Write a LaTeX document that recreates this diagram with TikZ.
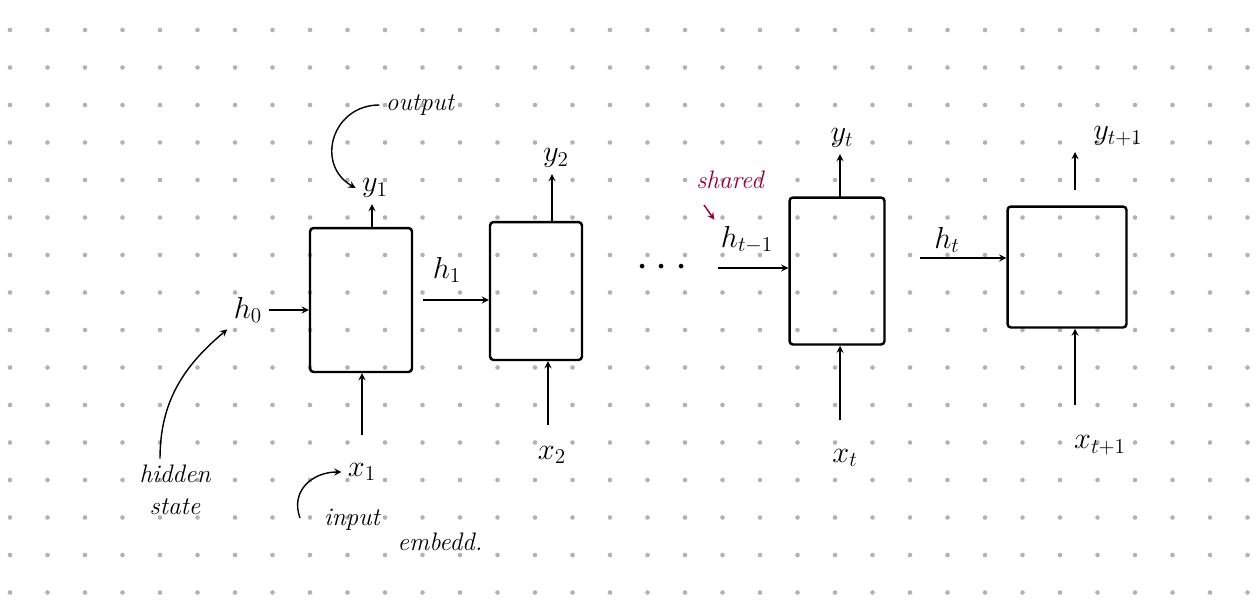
\documentclass[tikz,border=0pt]{standalone}
\usetikzlibrary{positioning}
\begin{document}
\begin{tikzpicture}[>=stealth, thick, x=0.02cm, y=-0.02cm,
  cell/.style={draw, line width=1.4pt, rounded corners=2pt, minimum width=#1},
  lbl/.style={font=\LARGE},
  note/.style={font=\Large\itshape}]
  % -------- background --------
  \useasboundingbox (0,0) rectangle (1257,606);
  \fill[white] (0,0) rectangle (1257,606);
  \foreach \i in {0,...,33} \foreach \j in {0,...,15}
    \fill[gray!60] ({10+37.5*\i},{30+37.5*\j}) circle (1.3pt);

  % -------- cells --------
  \node[cell=2.04cm, minimum height=2.88cm] (c1) at (361,300) {};
  \node[cell=1.84cm, minimum height=2.76cm] (c2) at (536,291) {};
  \node[cell=1.9cm, minimum height=2.94cm] (c3) at (837,271) {};
  \node[cell=2.38cm, minimum height=2.42cm] (c4) at (1067,267) {};

  % -------- hidden states --------
  \node[lbl] (h0) at (248,310) {$h_0$};
  \draw[->] (h0.east) -- (c1.west |- h0.east);
  \node[lbl] (h1) at (447,270) {$h_1$};
  \coordinate (h1s) at (423,300);
  \draw[->] (h1s) -- (c2.west |- h1s);
  \node[font=\Huge] (dots) at (662,268) {$\cdots$};
  \node[lbl] (ht1) at (747,240) {$h_{t-1}$};
  \coordinate (ht1s) at (718,268);
  \draw[->] (ht1s) -- (c3.west |- ht1s);
  \node[lbl] (ht) at (947,240) {$h_t$};
  \coordinate (hts) at (920,258);
  \draw[->] (hts) -- (c4.west |- hts);

  % -------- outputs --------
  \node[lbl] (y1) at (375,188) {$y_1$};
  \draw[->] (c1.north -| y1) ++(-3,0) coordinate (a1) -- (a1 |- y1.south);
  \node[lbl] (y2) at (556,158) {$y_2$};
  \draw[->] (552,222) coordinate (a2) -- (a2 |- y2.south);
  \node[lbl] (yt) at (842,138) {$y_t$};
  \draw[->] (840,198) coordinate (a3) -- (a3 |- yt.south);
  \node[lbl] (yt1) at (1118,136) {$y_{t+1}$};
  \draw[->] (1075,190) coordinate (a4) -- (1075,152);

  % -------- inputs --------
  \node[lbl] (x1) at (362,472) {$x_1$};
  \draw[->] (x1.north) ++(0,-22) coordinate (b1) -- (c1.south -| b1);
  \node[lbl] (x2) at (552,455) {$x_2$};
  \draw[->] (548,425) -- (c2.south -| 548,0);
  \node[lbl] (xt) at (845,458) {$x_t$};
  \draw[->] (840,420) -- (c3.south -| 840,0);
  \node[lbl] (xt1) at (1100,445) {$x_{t+1}$};
  \draw[->] (1075,405) -- (c4.south -| 1075,0);

  % -------- notes --------
  \node[note] (out) at (420,105) {output};
  \draw[->] (out.west) to[out=180, in=150, looseness=1.4] (y1.west);
  \node[note, align=center] (hid) at (175,490) {hidden\\state};
  \draw[->] (hid.north) ++(-15,0) to[out=90, in=220] (h0.south west);
  \node[note] (inp) at (352,520) {input};
  \node[note] (emb) at (440,542) {embedd.};
  \coordinate (ia) at (300,518);
  \draw[->] (ia) to[out=110, in=180, looseness=1.2] (x1.west);
  \node[note, purple!80!black] (sh) at (730,180) {shared};
  \coordinate (sa) at (704,205);
  \draw[->, purple!80!black] (sa) -- (ht1.north west);
\end{tikzpicture}
\end{document}
